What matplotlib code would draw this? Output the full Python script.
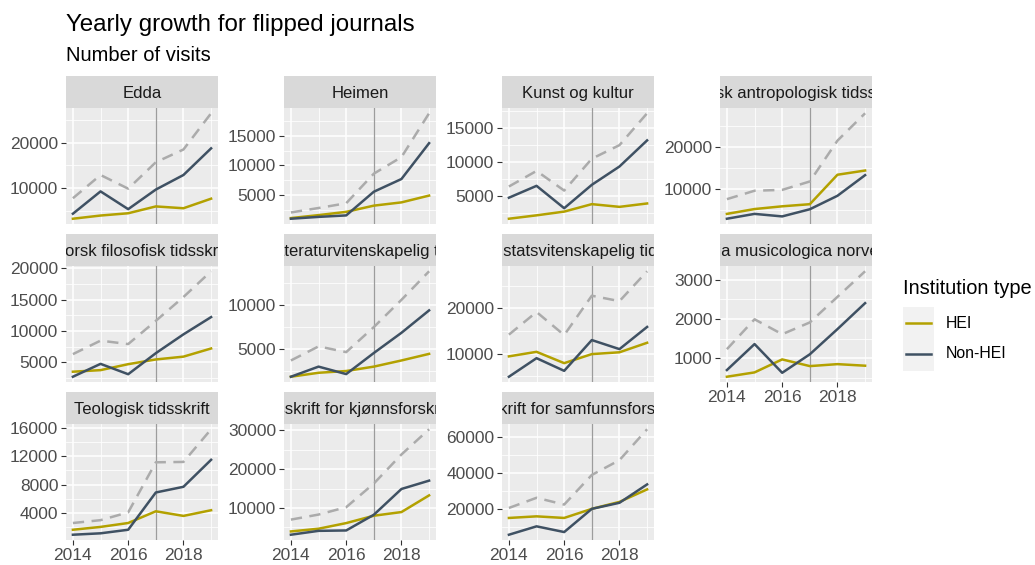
import matplotlib
matplotlib.use("Agg")
import matplotlib.pyplot as plt
from matplotlib.lines import Line2D
from matplotlib.patches import Rectangle

plt.rcParams['font.family'] = ['Liberation Sans', 'DejaVu Sans']

# --- Data ---
years = [2014, 2015, 2016, 2017, 2018, 2019]

journals = [
    "Edda",
    "Heimen",
    "Kunst og kultur",
    "Norsk antropologisk tidsskrift",
    "Norsk filosofisk tidsskrift",
    "Norsk litteraturvitenskapelig tidsskrift",
    "Norsk statsvitenskapelig tidsskrift",
    "Studia musicologica norvegica",
    "Teologisk tidsskrift",
    "Tidsskrift for kjønnsforskning",
    "Tidsskrift for samfunnsforskning",
]

hei_visits = [
    [3300, 4000, 4500, 6000, 5600, 7700],
    [1100, 1600, 2150, 3200, 3750, 4900],
    [1650, 2150, 2700, 3800, 3400, 3900],
    [4100, 5250, 5900, 6400, 13400, 14400],
    [3500, 3750, 4700, 5450, 5900, 7200],
    [1850, 2300, 2500, 3000, 3700, 4450],
    [9400, 10400, 7900, 9900, 10300, 12400],
    [530, 640, 970, 800, 850, 810],
    [1650, 2050, 2600, 4250, 3600, 4400],
    [3950, 4650, 6100, 8000, 8950, 13250],
    [14900, 15800, 14900, 20000, 23900, 30900],
]

nonhei_visits = [
    [4400, 9300, 5400, 9700, 12900, 18750],
    [990, 1300, 1550, 5550, 7700, 13750],
    [4750, 6500, 3200, 6650, 9350, 13200],
    [2950, 4100, 3500, 5200, 8400, 13300],
    [2700, 4750, 3100, 6450, 9450, 12200],
    [1850, 3000, 2150, 4550, 6850, 9400],
    [4900, 9000, 6200, 13000, 11000, 15900],
    [700, 1360, 630, 1100, 1740, 2400],
    [950, 1150, 1650, 6900, 7700, 11500],
    [3100, 4100, 4200, 8250, 14900, 17050],
    [5500, 10200, 7000, 20000, 23400, 33700],
]

total_visits = [
    [7800, 12900, 9900, 15700, 18500, 26450],
    [2050, 2800, 3600, 8600, 11400, 18800],
    [6400, 8700, 5800, 10500, 12500, 17200],
    [7600, 9600, 9800, 11800, 21500, 28000],
    [6300, 8450, 7900, 11600, 15400, 19500],
    [3700, 5300, 4650, 7500, 10600, 13850],
    [14200, 19200, 14100, 22800, 21600, 28200],
    [1230, 1990, 1610, 1910, 2560, 3210],
    [2600, 3000, 4100, 11150, 11200, 15800],
    [7000, 8300, 10200, 16300, 23800, 30300],
    [20500, 26200, 22400, 39000, 47300, 64600],
]

y_breaks = [
    [10000, 20000],
    [5000, 10000, 15000],
    [5000, 10000, 15000],
    [10000, 20000],
    [5000, 10000, 15000, 20000],
    [5000, 10000],
    [10000, 20000],
    [1000, 2000, 3000],
    [4000, 8000, 12000, 16000],
    [10000, 20000, 30000],
    [20000, 40000, 60000],
]

x_breaks = [2014, 2016, 2018]
x_minor = [2015, 2017, 2019]
flip_year = 2017

HEI_C = '#B3A100'
NON_C = '#3F5163'
TOT_C = '#ABABAB'

# --- Layout (pixels) ---
W, H = 1035, 565
col_left = [66, 284, 502, 720]
strip_top = [76, 234, 392]
pw, ph, sh = 152, 116, 32


def box(x, y, w, h):
    return [x / W, 1 - (y + h) / H, w / W, h / H]


fig = plt.figure(figsize=(W / 100, H / 100), dpi=100)

for i, name in enumerate(journals):
    r, c = divmod(i, 4)
    x0 = col_left[c]
    st = strip_top[r]
    ax = fig.add_axes(box(x0, st + sh, pw, ph))
    sax = fig.add_axes(box(x0, st, pw, sh))

    # strip (long names are clipped, as in the original)
    sax.set_facecolor('#D9D9D9')
    sax.set_xticks([])
    sax.set_yticks([])
    for s in sax.spines.values():
        s.set_visible(False)
    sax.text(0.5, 0.45, name, ha='center', va='center', fontsize=12,
             color='#1A1A1A', transform=sax.transAxes, clip_on=True)

    # panel
    ax.set_facecolor('#EBEBEB')
    ax.margins(x=0.05, y=0.05)
    ax.plot(years, total_visits[i], color=TOT_C, lw=1.8, ls=(0, (4.5, 3)), zorder=3)
    ax.plot(years, hei_visits[i], color=HEI_C, lw=1.8, zorder=4)
    ax.plot(years, nonhei_visits[i], color=NON_C, lw=1.8, zorder=5)
    lo, hi = ax.get_ylim()
    ax.axvline(flip_year, color='#9C9C9C', lw=0.9, zorder=2)

    br = y_breaks[i]
    step = br[1] - br[0]
    minors = [b - step / 2 for b in br] + [br[-1] + step / 2]
    minors = [m for m in minors if lo < m < hi]
    ax.set_yticks(br, labels=[str(b) for b in br])
    ax.set_yticks(minors, minor=True)
    ax.set_ylim(lo, hi)
    ax.set_xticks(x_breaks, labels=[str(b) for b in x_breaks])
    ax.set_xticks(x_minor, minor=True)
    ax.set_xlim(2013.75, 2019.25)

    ax.set_axisbelow(True)
    ax.grid(which='major', color='white', lw=1.1)
    ax.grid(which='minor', color='white', lw=0.55)
    for s in ax.spines.values():
        s.set_visible(False)
    ax.tick_params(which='minor', length=0)
    ax.tick_params(which='major', length=3.5, width=0.8, color='#333333',
                   labelcolor='#4D4D4D', labelsize=12.5, pad=2)
    if i < 7:
        ax.tick_params(axis='x', which='major', length=0, labelbottom=False)

# --- Titles ---
fig.text(66 / W, 1 - 31 / H, "Yearly growth for flipped journals", fontsize=17.4,
         color='black', ha='left', va='baseline')
fig.text(66 / W, 1 - 61 / H, "Number of visits", fontsize=14.5,
         color='black', ha='left', va='baseline')

# --- Legend ---
fig.text(903 / W, 1 - 289 / H, "Institution type", fontsize=14.4, color='black',
         ha='left', va='center')
fig.patches.append(Rectangle((903 / W, 1 - 371 / H), 31 / W, 64 / H,
                             transform=fig.transFigure, facecolor='#F2F2F2',
                             edgecolor='none'))
for yy, col, lab in [(323, HEI_C, 'HEI'), (354, NON_C, 'Non-HEI')]:
    fig.add_artist(Line2D([906 / W, 931 / W], [1 - yy / H, 1 - yy / H],
                          transform=fig.transFigure, color=col, lw=1.8))
    fig.text(946 / W, 1 - yy / H, lab, fontsize=11.4, color='black',
             ha='left', va='center')

fig.savefig('out.png', dpi=100)
